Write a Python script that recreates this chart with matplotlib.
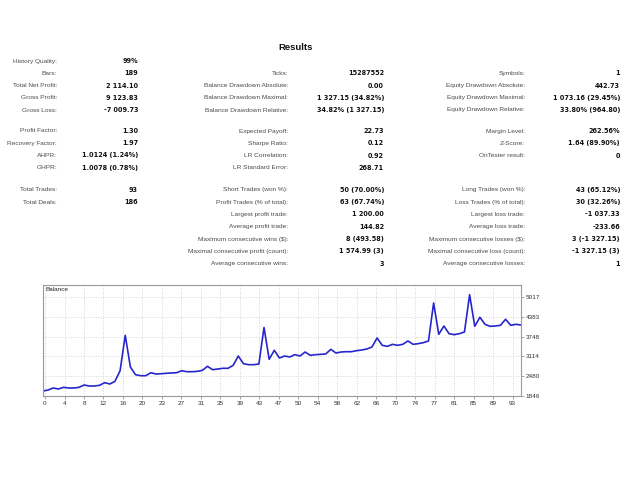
import numpy as np
import matplotlib
matplotlib.use("Agg")
import matplotlib.pyplot as plt

plt.rcParams["font.family"] = ["Liberation Sans", "DejaVu Sans"]

W, H = 640, 480

# ── report table ─────────────────────────────────────────────
SEC1_COL1 = [("History Quality:", "99%"), ("Bars:", "189"),
             ("Total Net Profit:", "2 114.10"), ("Gross Profit:", "9 123.83"),
             ("Gross Loss:", "-7 009.73")]
SEC1_COL2 = [None, ("Ticks:", "15287552"),
             ("Balance Drawdown Absolute:", "0.00"),
             ("Balance Drawdown Maximal:", "1 327.15 (34.82%)"),
             ("Balance Drawdown Relative:", "34.82% (1 327.15)")]
SEC1_COL3 = [None, ("Symbols:", "1"),
             ("Equity Drawdown Absolute:", "442.73"),
             ("Equity Drawdown Maximal:", "1 073.16 (29.45%)"),
             ("Equity Drawdown Relative:", "33.80% (964.80)")]

SEC2_COL1 = [("Profit Factor:", "1.30"), ("Recovery Factor:", "1.97"),
             ("AHPR:", "1.0124 (1.24%)"), ("GHPR:", "1.0078 (0.78%)")]
SEC2_COL2 = [("Expected Payoff:", "22.73"), ("Sharpe Ratio:", "0.12"),
             ("LR Correlation:", "0.92"), ("LR Standard Error:", "268.71")]
SEC2_COL3 = [("Margin Level:", "262.56%"), ("Z-Score:", "1.64 (89.90%)"),
             ("OnTester result:", "0")]

SEC3_COL1 = [("Total Trades:", "93"), ("Total Deals:", "186")]
SEC3_COL2 = [("Short Trades (won %):", "50 (70.00%)"),
             ("Profit Trades (% of total):", "63 (67.74%)"),
             ("Largest profit trade:", "1 200.00"),
             ("Average profit trade:", "144.82"),
             ("Maximum consecutive wins ($):", "8 (493.58)"),
             ("Maximal consecutive profit (count):", "1 574.99 (3)"),
             ("Average consecutive wins:", "3")]
SEC3_COL3 = [("Long Trades (won %):", "43 (65.12%)"),
             ("Loss Trades (% of total):", "30 (32.26%)"),
             ("Largest loss trade:", "-1 037.33"),
             ("Average loss trade:", "-233.66"),
             ("Maximum consecutive losses ($):", "3 (-1 327.15)"),
             ("Maximal consecutive loss (count):", "-1 327.15 (3)"),
             ("Average consecutive losses:", "1")]

# ── balance curve ────────────────────────────────────────────
BALANCE = [
    2006, 2038, 2102, 2070, 2124, 2102, 2102, 2124, 2198, 2166,
    2166, 2188, 2273, 2230, 2316, 2656, 3790, 2775, 2528, 2496,
    2496, 2592, 2550, 2560, 2573, 2584, 2592, 2656, 2624, 2624,
    2635, 2667, 2797, 2688, 2711, 2733, 2733, 2829, 3127, 2881,
    2849, 2849, 2871, 4040, 3021, 3310, 3063, 3127, 3095, 3170,
    3127, 3255, 3148, 3170, 3180, 3191, 3340, 3223, 3255, 3265,
    3265, 3297, 3319, 3351, 3415, 3704, 3469, 3437, 3501, 3469,
    3501, 3608, 3501, 3522, 3554, 3608, 4825, 3822, 4088, 3842,
    3810, 3842, 3896, 5091, 4078, 4367, 4142, 4078, 4088, 4110,
    4303, 4110, 4142, 4120,
]
X_LABELS = ["0", "4", "8", "12", "16", "20", "23", "27", "31", "35", "39",
            "43", "47", "50", "54", "58", "62", "66", "70", "74", "77",
            "81", "85", "89", "93"]
Y_TICKS = [1846, 2480, 3114, 3748, 4383, 5017]

fig = plt.figure(figsize=(6.4, 4.8), dpi=100)


def fx(px):
    return px / W


def fy(py):
    return 1 - py / H


LBL = dict(fontsize=4.65, color="#4a4a4a", ha="right", va="center")
VAL = dict(fontsize=4.7, color="#111111", ha="right", va="center",
           fontweight="bold", family=["DejaVu Sans"])

fig.text(fx(296), fy(48), "Results", fontsize=6.8, fontweight="bold",
         ha="center", va="center", color="#111111")

# label right edge, value right edge
COLS = [(57, 138), (288, 384), (525, 620)]
STEP = 12.25
sections = [
    (61, [SEC1_COL1, SEC1_COL2, SEC1_COL3]),
    (131, [SEC2_COL1, SEC2_COL2, SEC2_COL3]),
    (190, [SEC3_COL1, SEC3_COL2, SEC3_COL3]),
]
for y0, cols in sections:
    for (lx, vx), items in zip(COLS, cols):
        for k, item in enumerate(items):
            if item is None:
                continue
            y = y0 + k * STEP
            fig.text(fx(lx), fy(y), item[0], **LBL)
            fig.text(fx(vx), fy(y), item[1], **VAL)

# ── chart ─────────────────────────────────────────────────────
ax = fig.add_axes([fx(43), fy(396), fx(521) - fx(43), (396 - 285) / H])
x = np.arange(len(BALANCE))
ax.plot(x, BALANCE, color="#2626cc", lw=1.2)
ax.set_xlim(0, len(BALANCE) - 1)
ax.set_ylim(1846, 5401)

# MT5 spaces the labels evenly in pixels
xt = 0.4 + np.arange(len(X_LABELS)) * 3.79
ax.set_xticks(xt, X_LABELS)
ax.set_yticks(Y_TICKS, [str(v) for v in Y_TICKS])
ax.yaxis.tick_right()
ax.tick_params(axis="both", labelsize=4.6, length=2, width=0.5,
               color="#808080", labelcolor="#333333", pad=1.5)
ax.grid(True, color="#c8c8c8", ls=(0, (1, 2)), lw=0.6)
for s in ax.spines.values():
    s.set_color("#9a9a9a")
    s.set_linewidth(0.8)
ax.text(0.006, 0.955, "Balance", transform=ax.transAxes, fontsize=4.6,
        color="#222222", ha="left", va="center")

fig.savefig("out.png", dpi=100)
